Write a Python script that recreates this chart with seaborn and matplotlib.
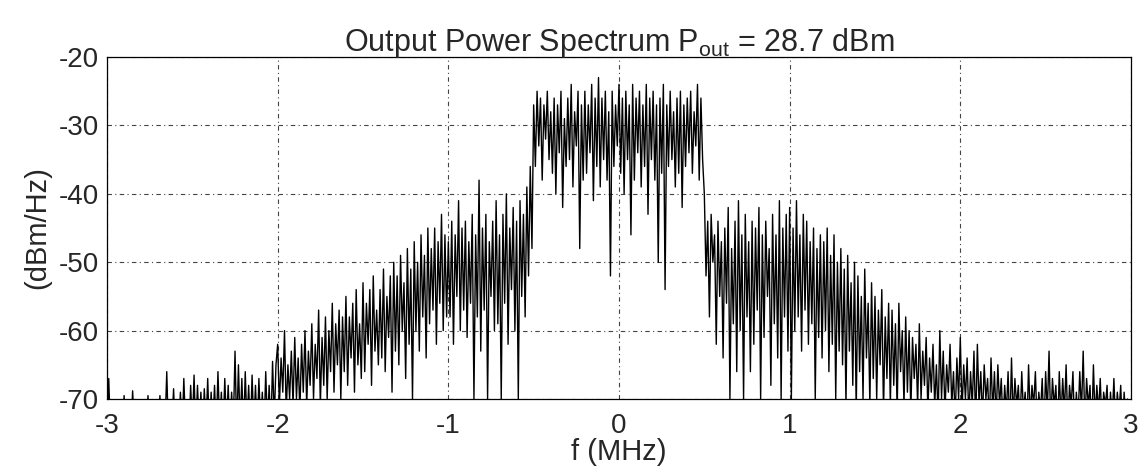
import numpy as np
import pandas as pd
import matplotlib
matplotlib.use("Agg")
import matplotlib.pyplot as plt
import seaborn as sns

# spectrum values, 0.01 MHz apart, per band
far_left = [-75, -67, -75, -76, -74, -75, -76, -74, -75, -75,
            -69.5, -75, -74, -76, -75, -68.8, -74, -76, -76, -75,
            -74, -76, -75, -74, -69.5, -75, -76, -74, -75, -75,
            -74, -69.5, -75, -76, -74, -66, -75, -76, -74, -68.5,
            -75, -76, -74, -69, -75, -67, -74, -76, -75, -68,
            -74, -66.5, -75, -68, -74, -69, -75, -68.5, -74, -67,
            -75, -69, -74, -68, -75, -66, -74, -69, -75, -67,
            -74, -68, -75, -69, -74, -63, -75, -65, -74, -67,
            -75, -66, -74, -68, -75, -66.5, -74, -68, -75, -67,
            -74, -69, -75, -66, -74, -68, -75, -64.5, -73, -65]
left_shoulder = [-62, -71, -64, -69, -60, -72, -65, -70, -63, -71,
                 -61, -70, -64, -72, -62, -69, -60, -71, -63, -68,
                 -59, -70, -62, -67, -57, -71, -61, -68, -58, -70,
                 -60, -66, -56, -69, -59, -65, -57, -70, -58, -66,
                 -55, -68, -58, -64, -56, -69, -54, -65, -59, -67,
                 -53, -66, -56, -62, -54, -68, -52, -63, -57, -65,
                 -54, -64, -51, -66, -55, -61, -52, -69, -50, -63,
                 -52, -65, -49, -60, -53, -67, -48, -62, -51, -70,
                 -47, -60, -50, -63, -46, -58, -49, -64, -45, -59,
                 -48, -57, -45, -62, -47, -56, -43, -60, -46, -58]
left_edge = [-47, -58, -44, -62, -46, -55, -41, -60, -45, -57,
             -44, -61, -47, -56, -43, -70, -46, -58, -38, -63,
             -45, -57, -43, -70, -47, -55, -44, -60, -41, -59,
             -46, -70, -43, -56, -40, -62, -45, -54, -42, -60,
             -44, -70, -41, -55, -43, -58, -39, -52, -36, -48]
main_band = [-27, -36, -25, -33, -26, -38, -27, -32, -25, -35,
             -28, -37, -26, -40, -27, -34, -25, -42, -29, -36,
             -26, -35, -24, -39, -28, -33, -25, -48, -27, -38,
             -25, -37, -27, -34, -24, -41, -26, -36, -23, -39,
             -26, -35, -25, -38, -28, -52, -25, -36, -27, -33,
             -24, -37, -26, -40, -25, -35, -27, -46, -24, -38,
             -26, -34, -25, -39, -27, -36, -24, -43, -26, -35,
             -25, -38, -27, -50, -26, -37, -24, -54, -27, -36,
             -25, -35, -28, -39, -26, -37, -25, -42, -27, -36,
             -26, -34, -25, -37, -28, -33, -24, -38, -26, -35]
right_edge = [-40, -52, -44, -58, -43, -50, -46, -62, -44, -55,
              -47, -64, -45, -56, -42, -70, -48, -59, -44, -66,
              -41, -60, -46, -70, -43, -58, -47, -66, -44, -62,
              -45, -57, -42, -70, -46, -61, -44, -55, -48, -68,
              -43, -59, -46, -64, -41, -70, -45, -58, -43, -63]
right_shoulder = [-42, -70, -45, -60, -41, -58, -46, -63, -43, -57,
                  -44, -62, -47, -59, -45, -70, -48, -61, -46, -64,
                  -47, -60, -45, -66, -49, -62, -46, -70, -50, -63,
                  -48, -65, -51, -71, -49, -63, -53, -68, -50, -72,
                  -52, -66, -55, -70, -51, -64, -56, -71, -53, -67,
                  -55, -70, -57, -65, -54, -72, -58, -67, -56, -71,
                  -57, -68, -59, -72, -56, -66, -60, -71, -58, -69,
                  -60, -72, -61, -67, -62, -71, -59, -70, -63, -68,
                  -61, -72, -64, -69, -62, -71, -65, -73, -60, -70,
                  -63, -72, -65, -69, -62, -71, -66, -73, -64, -70]
far_right = [-61, -72, -65, -70, -64, -73, -66, -71, -63, -74,
             -62, -71, -66, -73, -65, -70, -67, -74, -64, -72,
             -66, -73, -65, -71, -67, -74, -68, -72, -66, -75,
             -64, -73, -67, -71, -68, -74, -66, -72, -69, -75,
             -65, -73, -68, -71, -66, -74, -69, -72, -67, -75,
             -66, -72, -63, -74, -67, -71, -68, -75, -66, -73,
             -67, -72, -65, -74, -68, -71, -66, -75, -69, -73,
             -66, -72, -63, -74, -67, -71, -68, -75, -65, -73,
             -68, -72, -67, -74, -69, -71, -68, -75, -69, -73,
             -67, -74, -69, -72, -68, -75, -69, -73, -70, -74,
             -75]

power = far_left + left_shoulder + left_edge + main_band + right_edge + right_shoulder + far_right
freq = np.round(np.arange(len(power)) * 0.01 - 3.0, 2)
df = pd.DataFrame({"f": freq, "psd": power})

sns.set_style("white")
plt.rcParams['font.family'] = ['Liberation Sans', 'DejaVu Sans']
plt.rcParams['mathtext.fontset'] = 'custom'
plt.rcParams['mathtext.rm'] = 'Liberation Sans'
plt.rcParams['mathtext.it'] = 'Liberation Sans'
plt.rcParams['axes.unicode_minus'] = False

fig = plt.figure(figsize=(11.41, 4.74), dpi=100)
ax = fig.add_axes([0.0938, 0.1582, 0.8974, 0.7215])
sns.lineplot(data=df, x="f", y="psd", ax=ax, color="black", linewidth=1.0,
             estimator=None, sort=False)

ax.set_xlim(-3, 3)
ax.set_ylim(-70, -20)
ax.set_xticks([-3, -2, -1, 0, 1, 2, 3])
ax.set_yticks([-70, -60, -50, -40, -30, -20])
ax.grid(True, linestyle=(0, (4, 3, 1, 3)), color="#444444", linewidth=0.8)
ax.tick_params(direction="in", labelsize=20, length=5, color="black")
ax.tick_params(axis="x", pad=10)
ax.tick_params(axis="y", pad=6)
for s in ax.spines.values():
    s.set_color("black")
    s.set_linewidth(0.9)
ax.set_xlabel("f (MHz)", fontsize=21, labelpad=-1)
ax.set_ylabel("(dBm/Hz)", fontsize=21, labelpad=5)
ax.set_title(r"Output Power Spectrum P$_{\mathrm{out}}$ = 28.7 dBm", fontsize=22, pad=4)

fig.savefig("out.png", dpi=100)
